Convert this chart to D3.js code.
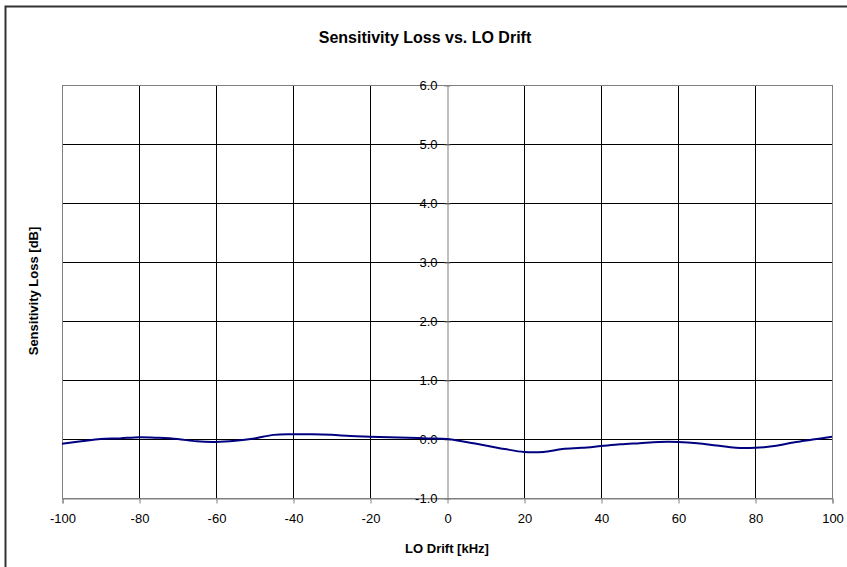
<!DOCTYPE html>
<html>
<head>
    <meta charset="utf-8">
    <script src="https://cdn.jsdelivr.net/npm/d3@7"></script>
    <title>Sensitivity Loss vs. LO Drift</title>
    <style>
        body { margin: 0; background: #fff; }
        svg { display: block; font-family: "Liberation Sans", Arial, sans-serif; }
    </style>
</head>
<body>
<svg width="847" height="567"></svg>

<script>
    // LO drift in kHz, 5 kHz steps
    const drift = [-100, -95, -90, -85, -80, -75, -70, -65, -60, -55, -50, -45, -40, -35, -30, -25, -20, -15, -10, -5,
        0, 5, 10, 15, 20, 25, 30, 35, 40, 45, 50, 55, 60, 65, 70, 75, 80, 85, 90, 95, 100];
    // sensitivity loss in dB
    const loss = [-0.08, -0.04, 0.0, 0.01, 0.03, 0.02, 0.0, -0.04, -0.05, -0.03, 0.01, 0.07, 0.08, 0.08, 0.07, 0.05, 0.04, 0.03, 0.02, 0.01,
        0.0, -0.05, -0.11, -0.17, -0.22, -0.22, -0.17, -0.15, -0.12, -0.09, -0.07, -0.05, -0.05, -0.07, -0.11, -0.15, -0.15, -0.12, -0.06, -0.01, 0.04];
    const xTicks = [-100, -80, -60, -40, -20, 0, 20, 40, 60, 80, 100];
    const yTicks = [-1, 0, 1, 2, 3, 4, 5, 6];

    const svg = d3.select("svg");

    // plot area
    const plotL = 62, plotR = 832, plotT = 85, plotB = 498;

    const x = d3.scaleLinear().domain([-100, 100]).range([plotL, plotR]);
    const y = d3.scaleLinear().domain([-1, 6]).range([plotB, plotT]);

    // chart border
    svg.append("rect")
        .attr("x", 5.5).attr("y", 6.5)
        .attr("width", 860).attr("height", 580)
        .attr("fill", "none").attr("stroke", "#333").attr("stroke-width", 2);

    svg.append("text")
        .attr("x", 425).attr("y", 43)
        .attr("text-anchor", "middle")
        .style("font-size", "16px").style("font-weight", "bold")
        .text("Sensitivity Loss vs. LO Drift");

    // grid
    svg.append("g").selectAll("line")
        .data(xTicks.filter(d => d !== 0 && d !== -100 && d !== 100))
        .enter().append("line")
        .attr("x1", d => x(d) + 0.5).attr("x2", d => x(d) + 0.5)
        .attr("y1", plotT).attr("y2", plotB)
        .attr("stroke", "#000").attr("stroke-width", 1);

    svg.append("g").selectAll("line")
        .data(yTicks.filter(d => d !== -1 && d !== 6))
        .enter().append("line")
        .attr("x1", plotL).attr("x2", plotR)
        .attr("y1", d => y(d) + 0.5).attr("y2", d => y(d) + 0.5)
        .attr("stroke", "#000").attr("stroke-width", 1);

    // plot frame
    svg.append("rect")
        .attr("x", plotL + 0.5).attr("y", plotT + 0.5)
        .attr("width", plotR - plotL).attr("height", plotB - plotT)
        .attr("fill", "none").attr("stroke", "#808080").attr("stroke-width", 1);

    // x axis along the bottom
    const xAxis = svg.append("g")
        .attr("transform", `translate(0.5,${plotB + 0.5})`)
        .call(d3.axisBottom(x).tickValues(xTicks).tickSize(5).tickPadding(10).tickFormat(d => String(d)));
    xAxis.select(".domain").attr("stroke", "#808080");
    xAxis.selectAll(".tick line").attr("stroke", "#808080");
    xAxis.selectAll("text").style("font-size", "13px").attr("fill", "#000");

    // y axis crosses at x = 0
    const yAxis = svg.append("g")
        .attr("transform", `translate(${x(0) + 0.5},0.5)`)
        .call(d3.axisLeft(y).tickValues(yTicks).tickSizeInner(-3).tickSizeOuter(0).tickPadding(10).tickFormat(d => d.toFixed(1)));
    yAxis.select(".domain").attr("stroke", "#808080");
    yAxis.selectAll(".tick line").attr("stroke", "#808080").attr("x1", -3);
    yAxis.selectAll("text").style("font-size", "13px").attr("fill", "#000");

    // series
    const line = d3.line()
        .x((d, i) => x(drift[i]))
        .y(d => y(d))
        .curve(d3.curveCatmullRom);

    svg.append("path")
        .datum(loss)
        .attr("d", line)
        .attr("fill", "none")
        .attr("stroke", "#000080")
        .attr("stroke-width", 2);

    // axis titles
    svg.append("text")
        .attr("x", 447).attr("y", 553)
        .attr("text-anchor", "middle")
        .style("font-size", "13px").style("font-weight", "bold")
        .text("LO Drift [kHz]");

    svg.append("text")
        .attr("transform", "translate(38,291) rotate(-90)")
        .attr("text-anchor", "middle")
        .style("font-size", "13px").style("font-weight", "bold")
        .text("Sensitivity Loss [dB]");
</script>
</body>
</html>
